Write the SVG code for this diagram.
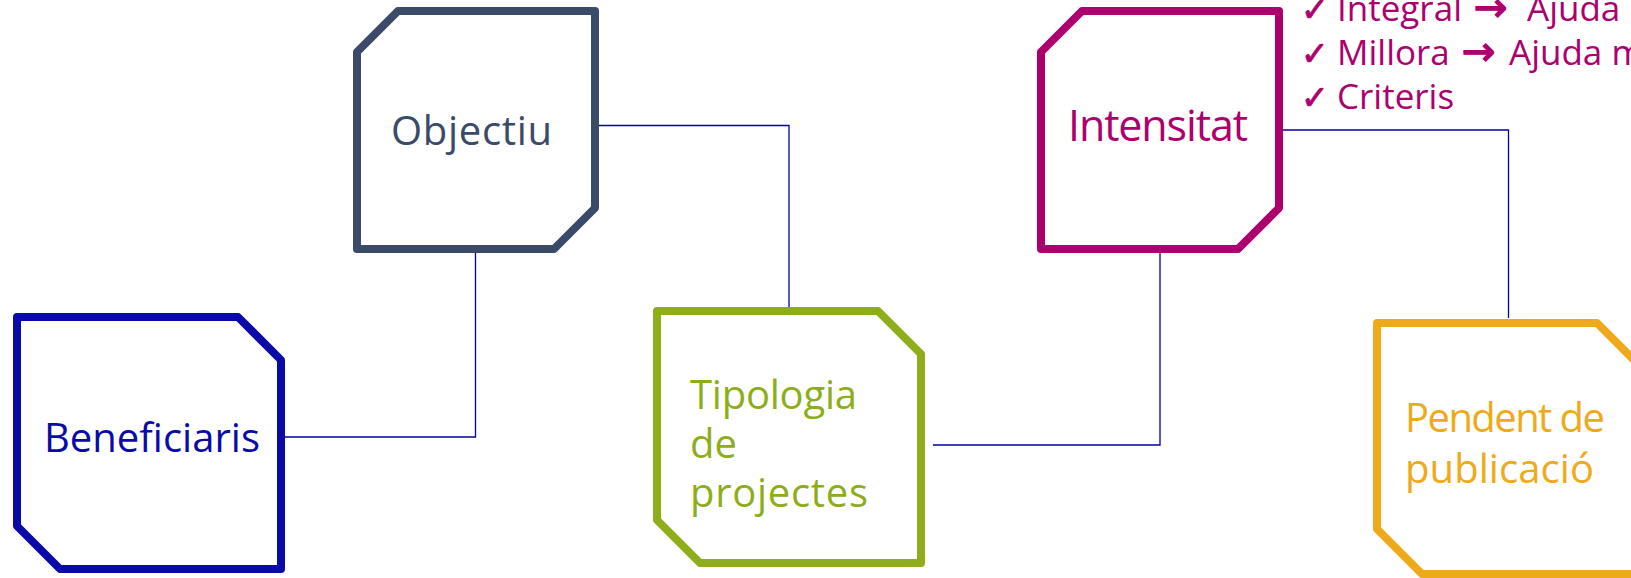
<svg xmlns="http://www.w3.org/2000/svg" width="1631" height="578" viewBox="0 0 1631 578">
  <style>
    .box { fill: #ffffff; stroke-width: 8; stroke-linejoin: round; }
    .lbl { font-family: "Open Sans", "Noto Sans", "DejaVu Sans", sans-serif; }
    .chk { font-family: "DejaVu Sans", sans-serif; font-size: 33px; stroke: #AD006F; stroke-width: 0.9; }
    .arr { font-family: "DejaVu Sans", sans-serif; font-size: 40px; stroke: #AD006F; stroke-width: 1.4; }
    .conn { fill: none; stroke: #0000A8; stroke-width: 1.3; }
  </style>
  <rect width="1631" height="578" fill="#ffffff"/>

  <g id="connectors">
    <path class="conn" d="M285,437 H475.5 V253"/>
    <path class="conn" d="M599,125.5 H789 V307"/>
    <path class="conn" d="M933,445 H1160 V253"/>
    <path class="conn" d="M1283,130 H1508.5 V318"/>
  </g>

  <g id="beneficiaris">
    <polygon class="box" stroke="#0A0AA8" points="17,317 238,317 281,360 281,569 60,569 17,526"/>
    <text class="lbl" x="44" y="452" font-size="40" fill="#0A0AA8" textLength="216" lengthAdjust="spacing">Beneficiaris</text>
  </g>

  <g id="objectiu">
    <polygon class="box" stroke="#3A4A68" points="398,11 595,11 595,208 554,249 357,249 357,52"/>
    <text class="lbl" x="391" y="145" font-size="40" fill="#3A4A68" textLength="161" lengthAdjust="spacing">Objectiu</text>
  </g>

  <g id="tipologia">
    <polygon class="box" stroke="#8DAE1A" points="657,311 878,311 921,354 921,563 700,563 657,520"/>
    <text class="lbl" font-size="40" fill="#8DAE1A">
      <tspan x="690" y="409" textLength="167" lengthAdjust="spacing">Tipologia</tspan>
      <tspan x="690" y="458">de</tspan>
      <tspan x="690" y="507" textLength="178" lengthAdjust="spacing">projectes</tspan>
    </text>
  </g>

  <g id="intensitat">
    <polygon class="box" stroke="#AD006F" points="1082,11 1279,11 1279,208 1238,249 1041,249 1041,52"/>
    <text class="lbl" x="1068" y="141" font-size="43" fill="#AD006F" textLength="180" lengthAdjust="spacing">Intensitat</text>
  </g>

  <g id="intensitat-notes" fill="#AD006F">
    <text class="lbl" font-size="35">
      <tspan class="chk" x="1301" y="21">✓</tspan>
      <tspan x="1337" y="21">Integral</tspan>
      <tspan class="arr" x="1474" y="21">→</tspan>
      <tspan x="1527" y="21">Ajuda</tspan>
    </text>
    <text class="lbl" font-size="35">
      <tspan class="chk" x="1301" y="65">✓</tspan>
      <tspan x="1337" y="65">Millora</tspan>
      <tspan class="arr" x="1462" y="65">→</tspan>
      <tspan x="1509" y="65">Ajuda m</tspan>
    </text>
    <text class="lbl" font-size="35">
      <tspan class="chk" x="1301" y="109">✓</tspan>
      <tspan x="1337" y="109">Criteris</tspan>
    </text>
  </g>

  <g id="pendent">
    <polygon class="box" stroke="#EEAA1A" stroke-width="11" points="1377,323 1597,323 1643,369 1643,574 1422,574 1377,529"/>
    <text class="lbl" font-size="40" fill="#EEAA1A">
      <tspan x="1405" y="432" textLength="200" lengthAdjust="spacing">Pendent de</tspan>
      <tspan x="1405" y="483" textLength="189" lengthAdjust="spacing">publicació</tspan>
    </text>
  </g>
</svg>
